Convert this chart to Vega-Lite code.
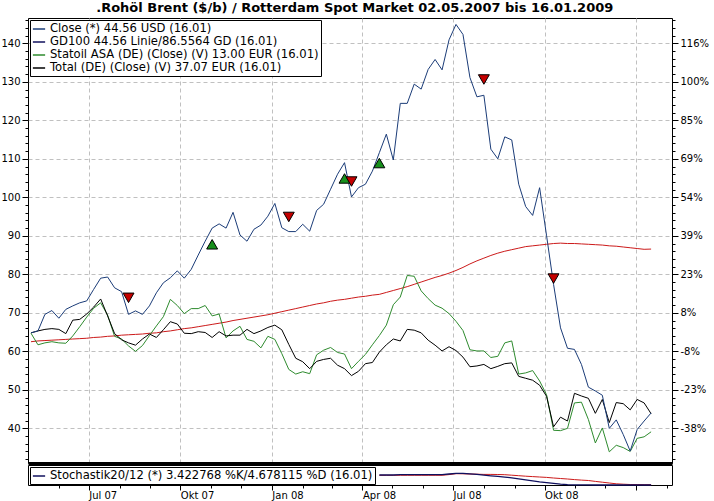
{
  "$schema": "https://vega.github.io/schema/vega-lite/v6.json",
  "autosize": {"type": "pad"},
  "padding": {"left": 0, "top": 1, "right": 4, "bottom": 0},
  "background": "white",
  "title": {
    "text": ".Rohöl Brent ($/b) / Rotterdam Spot Market 02.05.2007 bis 16.01.2009",
    "font": "DejaVu Sans",
    "fontSize": 13,
    "fontWeight": "bold",
    "color": "black",
    "anchor": "middle",
    "offset": 3,
    "dx": 0
  },
  "datasets": {
    "wk": [
      {"d": "2007-05-04", "Close": 64.8, "GD100": 62.5, "Statoil": 64.7, "Total": 64.8},
      {"d": "2007-05-11", "Close": 65.3, "GD100": 62.7, "Statoil": 61.7, "Total": 65.3},
      {"d": "2007-05-18", "Close": 69.6, "GD100": 62.8, "Statoil": 62.2, "Total": 65.7},
      {"d": "2007-05-25", "Close": 70.6, "GD100": 62.9, "Statoil": 62.5, "Total": 65.9},
      {"d": "2007-06-01", "Close": 68.6, "GD100": 63.0, "Statoil": 62.2, "Total": 65.7},
      {"d": "2007-06-08", "Close": 70.9, "GD100": 63.1, "Statoil": 62.1, "Total": 64.6},
      {"d": "2007-06-15", "Close": 71.8, "GD100": 63.2, "Statoil": 64.0, "Total": 68.1},
      {"d": "2007-06-22", "Close": 72.6, "GD100": 63.3, "Statoil": 66.4, "Total": 68.3},
      {"d": "2007-06-29", "Close": 73.1, "GD100": 63.4, "Statoil": 68.9, "Total": 69.7},
      {"d": "2007-07-06", "Close": 76.1, "GD100": 63.6, "Statoil": 71.2, "Total": 71.5},
      {"d": "2007-07-13", "Close": 79.0, "GD100": 63.7, "Statoil": 72.6, "Total": 73.6},
      {"d": "2007-07-20", "Close": 79.3, "GD100": 63.9, "Statoil": 69.4, "Total": 69.2},
      {"d": "2007-07-27", "Close": 76.5, "GD100": 64.0, "Statoil": 63.9, "Total": 64.6},
      {"d": "2007-08-03", "Close": 75.5, "GD100": 64.2, "Statoil": 63.2, "Total": 63.0},
      {"d": "2007-08-10", "Close": 69.6, "GD100": 64.3, "Statoil": 61.4, "Total": 62.2},
      {"d": "2007-08-17", "Close": 70.5, "GD100": 64.4, "Statoil": 60.0, "Total": 61.6},
      {"d": "2007-08-24", "Close": 69.6, "GD100": 64.5, "Statoil": 61.5, "Total": 63.2},
      {"d": "2007-08-31", "Close": 71.8, "GD100": 64.7, "Statoil": 64.1, "Total": 64.5},
      {"d": "2007-09-07", "Close": 75.2, "GD100": 64.8, "Statoil": 66.6, "Total": 63.6},
      {"d": "2007-09-14", "Close": 77.8, "GD100": 65.1, "Statoil": 69.0, "Total": 65.6},
      {"d": "2007-09-21", "Close": 79.1, "GD100": 65.3, "Statoil": 73.5, "Total": 67.7},
      {"d": "2007-09-28", "Close": 80.9, "GD100": 65.6, "Statoil": 71.9, "Total": 67.1},
      {"d": "2007-10-05", "Close": 79.0, "GD100": 65.9, "Statoil": 69.8, "Total": 64.7},
      {"d": "2007-10-12", "Close": 81.3, "GD100": 66.1, "Statoil": 71.1, "Total": 64.6},
      {"d": "2007-10-19", "Close": 85.0, "GD100": 66.4, "Statoil": 71.1, "Total": 65.1},
      {"d": "2007-10-26", "Close": 88.6, "GD100": 66.7, "Statoil": 71.9, "Total": 64.9},
      {"d": "2007-11-02", "Close": 92.0, "GD100": 67.0, "Statoil": 69.2, "Total": 63.6},
      {"d": "2007-11-09", "Close": 93.1, "GD100": 67.3, "Statoil": 69.7, "Total": 65.1},
      {"d": "2007-11-16", "Close": 92.0, "GD100": 67.6, "Statoil": 63.5, "Total": 64.0},
      {"d": "2007-11-23", "Close": 96.1, "GD100": 68.0, "Statoil": 65.3, "Total": 64.2},
      {"d": "2007-11-30", "Close": 90.2, "GD100": 68.3, "Statoil": 66.5, "Total": 64.2},
      {"d": "2007-12-07", "Close": 88.6, "GD100": 68.6, "Statoil": 63.1, "Total": 65.7},
      {"d": "2007-12-14", "Close": 91.7, "GD100": 68.9, "Statoil": 62.6, "Total": 64.6},
      {"d": "2007-12-21", "Close": 92.8, "GD100": 69.2, "Statoil": 60.9, "Total": 65.3},
      {"d": "2007-12-28", "Close": 95.1, "GD100": 69.5, "Statoil": 63.9, "Total": 66.2},
      {"d": "2008-01-04", "Close": 98.4, "GD100": 69.9, "Statoil": 63.1, "Total": 66.8},
      {"d": "2008-01-11", "Close": 92.1, "GD100": 70.3, "Statoil": 59.4, "Total": 65.6},
      {"d": "2008-01-18", "Close": 91.1, "GD100": 70.7, "Statoil": 55.3, "Total": 61.8},
      {"d": "2008-01-25", "Close": 91.1, "GD100": 71.1, "Statoil": 54.1, "Total": 58.2},
      {"d": "2008-02-01", "Close": 93.0, "GD100": 71.5, "Statoil": 54.7, "Total": 57.3},
      {"d": "2008-02-08", "Close": 91.2, "GD100": 71.9, "Statoil": 54.2, "Total": 55.5},
      {"d": "2008-02-15", "Close": 96.6, "GD100": 72.3, "Statoil": 59.1, "Total": 57.4},
      {"d": "2008-02-22", "Close": 98.2, "GD100": 72.6, "Statoil": 60.3, "Total": 57.9},
      {"d": "2008-02-29", "Close": 102.1, "GD100": 73.0, "Statoil": 61.0, "Total": 58.2},
      {"d": "2008-03-07", "Close": 106.0, "GD100": 73.3, "Statoil": 59.7, "Total": 56.4},
      {"d": "2008-03-14", "Close": 109.0, "GD100": 73.5, "Statoil": 59.3, "Total": 55.5},
      {"d": "2008-03-21", "Close": 100.1, "GD100": 73.8, "Statoil": 55.5, "Total": 53.7},
      {"d": "2008-03-28", "Close": 102.5, "GD100": 74.1, "Statoil": 57.4, "Total": 54.8},
      {"d": "2008-04-04", "Close": 103.4, "GD100": 74.3, "Statoil": 59.2, "Total": 56.8},
      {"d": "2008-04-11", "Close": 106.8, "GD100": 74.6, "Statoil": 61.7, "Total": 57.1},
      {"d": "2008-04-18", "Close": 111.6, "GD100": 74.8, "Statoil": 64.1, "Total": 59.8, "K": 50, "D": 48.5},
      {"d": "2008-04-25", "Close": 116.4, "GD100": 75.3, "Statoil": 66.8, "Total": 61.7, "K": 50, "D": 48.5},
      {"d": "2008-05-02", "Close": 109.7, "GD100": 75.8, "Statoil": 72.1, "Total": 63.2, "K": 50, "D": 48.5},
      {"d": "2008-05-09", "Close": 124.4, "GD100": 76.3, "Statoil": 74.1, "Total": 62.7, "K": 51.5, "D": 48.5},
      {"d": "2008-05-16", "Close": 124.4, "GD100": 76.8, "Statoil": 79.7, "Total": 65.7, "K": 51.5, "D": 48.5},
      {"d": "2008-05-23", "Close": 129.4, "GD100": 77.4, "Statoil": 79.5, "Total": 65.5, "K": 51.5, "D": 48.5},
      {"d": "2008-05-30", "Close": 128.1, "GD100": 78.0, "Statoil": 75.7, "Total": 64.8, "K": 51.5, "D": 48.5},
      {"d": "2008-06-06", "Close": 133.2, "GD100": 78.6, "Statoil": 73.7, "Total": 62.9, "K": 51.5, "D": 48.5},
      {"d": "2008-06-13", "Close": 135.8, "GD100": 79.2, "Statoil": 72.0, "Total": 61.6, "K": 51.5, "D": 48.5},
      {"d": "2008-06-20", "Close": 133.1, "GD100": 79.7, "Statoil": 71.2, "Total": 60.1, "K": 51.5, "D": 48.5},
      {"d": "2008-06-27", "Close": 140.9, "GD100": 80.3, "Statoil": 69.8, "Total": 61.2, "K": 55, "D": 52},
      {"d": "2008-07-04", "Close": 144.9, "GD100": 81.0, "Statoil": 67.8, "Total": 60.2, "K": 58.5, "D": 56.5},
      {"d": "2008-07-11", "Close": 142.3, "GD100": 81.8, "Statoil": 65.4, "Total": 58.5, "K": 58.5, "D": 56},
      {"d": "2008-07-18", "Close": 131.1, "GD100": 82.7, "Statoil": 60.4, "Total": 56.0, "K": 56, "D": 55},
      {"d": "2008-07-25", "Close": 126.1, "GD100": 83.5, "Statoil": 60.1, "Total": 56.2, "K": 53, "D": 54},
      {"d": "2008-08-01", "Close": 126.5, "GD100": 84.2, "Statoil": 60.1, "Total": 56.6, "K": 49.5, "D": 53},
      {"d": "2008-08-08", "Close": 112.5, "GD100": 84.9, "Statoil": 58.4, "Total": 55.5, "K": 46, "D": 53},
      {"d": "2008-08-15", "Close": 110.0, "GD100": 85.5, "Statoil": 58.7, "Total": 56.1, "K": 43, "D": 52.5},
      {"d": "2008-08-22", "Close": 115.7, "GD100": 86.0, "Statoil": 62.2, "Total": 56.8, "K": 39.5, "D": 51.5},
      {"d": "2008-08-29", "Close": 114.9, "GD100": 86.4, "Statoil": 62.7, "Total": 57.0, "K": 35.5, "D": 49},
      {"d": "2008-09-05", "Close": 103.4, "GD100": 86.8, "Statoil": 54.1, "Total": 53.5, "K": 31, "D": 46.5},
      {"d": "2008-09-12", "Close": 97.6, "GD100": 87.2, "Statoil": 54.4, "Total": 53.0, "K": 26, "D": 44},
      {"d": "2008-09-19", "Close": 95.3, "GD100": 87.4, "Statoil": 55.0, "Total": 52.5, "K": 21, "D": 42},
      {"d": "2008-09-26", "Close": 102.5, "GD100": 87.6, "Statoil": 52.3, "Total": 51.2, "K": 16, "D": 40},
      {"d": "2008-10-03", "Close": 90.0, "GD100": 87.8, "Statoil": 48.7, "Total": 48.3, "K": 12, "D": 38},
      {"d": "2008-10-10", "Close": 77.4, "GD100": 88.0, "Statoil": 39.5, "Total": 40.4, "K": 8, "D": 35},
      {"d": "2008-10-17", "Close": 66.1, "GD100": 88.1, "Statoil": 39.4, "Total": 42.9, "K": 4, "D": 32.5},
      {"d": "2008-10-24", "Close": 60.8, "GD100": 88.0, "Statoil": 40.0, "Total": 41.9, "K": 1.5, "D": 30},
      {"d": "2008-10-31", "Close": 60.5, "GD100": 88.0, "Statoil": 46.6, "Total": 49.1, "K": 1, "D": 27},
      {"d": "2008-11-07", "Close": 56.6, "GD100": 87.9, "Statoil": 46.8, "Total": 48.4, "K": 0.5, "D": 24.5},
      {"d": "2008-11-14", "Close": 50.7, "GD100": 87.8, "Statoil": 42.3, "Total": 47.8, "K": 0.5, "D": 22.5},
      {"d": "2008-11-21", "Close": 49.7, "GD100": 87.7, "Statoil": 36.2, "Total": 43.9, "K": 0, "D": 18},
      {"d": "2008-11-28", "Close": 48.6, "GD100": 87.6, "Statoil": 40.1, "Total": 47.5, "K": 0, "D": 14},
      {"d": "2008-12-05", "Close": 40.0, "GD100": 87.4, "Statoil": 33.9, "Total": 41.5, "K": 0, "D": 10},
      {"d": "2008-12-12", "Close": 42.2, "GD100": 87.3, "Statoil": 35.6, "Total": 46.7, "K": 0, "D": 6},
      {"d": "2008-12-19", "Close": 38.4, "GD100": 87.1, "Statoil": 35.0, "Total": 46.4, "K": 0, "D": 4},
      {"d": "2008-12-26", "Close": 34.1, "GD100": 86.9, "Statoil": 34.0, "Total": 44.8, "K": 0, "D": 2.5},
      {"d": "2009-01-02", "Close": 39.7, "GD100": 86.7, "Statoil": 37.4, "Total": 47.5, "K": 0, "D": 2},
      {"d": "2009-01-09", "Close": 41.9, "GD100": 86.5, "Statoil": 37.8, "Total": 46.6, "K": 0, "D": 1.5},
      {"d": "2009-01-16", "Close": 44.0, "GD100": 86.56, "Statoil": 39.1, "Total": 43.8, "K": 0, "D": 1.5}
    ],
    "sig": [
      {"d": "2007-08-10", "v": 73.9, "t": "down"},
      {"d": "2007-11-02", "v": 87.8, "t": "up"},
      {"d": "2008-01-18", "v": 94.9, "t": "down"},
      {"d": "2008-03-14", "v": 104.9, "t": "up"},
      {"d": "2008-03-21", "v": 104.1, "t": "down"},
      {"d": "2008-04-18", "v": 108.9, "t": "up"},
      {"d": "2008-08-01", "v": 130.6, "t": "down"},
      {"d": "2008-10-10", "v": 78.9, "t": "down"}
    ]
  },
  "spacing": 0,
  "resolve": {"scale": {"color": "independent"}, "legend": {"color": "independent"}},
  "vconcat": [
    {
      "width": 644,
      "height": 445,
      "resolve": {"axis": {"x": "independent", "y": "independent"}},
      "layer": [
        {
          "data": {"name": "wk"},
          "mark": {"type": "line", "color": "#cc1a1a", "strokeWidth": 1},
          "encoding": {
            "x": {
              "field": "d", "type": "temporal",
              "scale": {"domain": [{"year": 2007, "month": 5, "date": 1}, {"year": 2009, "month": 2, "date": 6}]},
              "axis": {
                "orient": "bottom", "title": null, "labels": false, "ticks": false,
                "grid": true, "gridColor": "#c0c0c0", "gridDash": [4, 3],
                "domain": true, "domainColor": "black", "domainWidth": 3,
                "values": [
                  {"year": 2007, "month": 7, "date": 1}, {"year": 2007, "month": 10, "date": 1},
                  {"year": 2008, "month": 1, "date": 1}, {"year": 2008, "month": 4, "date": 1},
                  {"year": 2008, "month": 7, "date": 1}, {"year": 2008, "month": 10, "date": 1},
                  {"year": 2009, "month": 1, "date": 1}
                ]
              }
            },
            "y": {
              "field": "GD100", "type": "quantitative",
              "scale": {"domain": [31, 146.57], "nice": false, "zero": false},
              "axis": {
                "orient": "right", "title": null, "grid": false, "domain": false,
                "tickSize": 6, "tickColor": "black", "labelPadding": 2,
                "labelFont": "DejaVu Sans", "labelFontSize": 10, "labelColor": "black",
                "values": [40, 50, 60, 70, 80, 90, 100, 110, 120, 130, 140],
                "labelExpr": "{'40':'-38%','50':'-23%','60':'-8%','70':'8%','80':'23%','90':'39%','100':'54%','110':'69%','120':'85%','130':'100%','140':'116%'}[datum.label]"
              }
            }
          }
        },
        {
          "data": {"name": "wk"},
          "transform": [{"fold": ["Statoil", "Total", "Close"], "as": ["series", "val"]}],
          "mark": {"type": "line", "strokeWidth": 1},
          "encoding": {
            "x": {"field": "d", "type": "temporal", "axis": null},
            "y": {
              "field": "val", "type": "quantitative",
              "axis": {
                "orient": "left", "title": null, "grid": true, "gridColor": "#c0c0c0", "gridDash": [4, 3],
                "domain": false, "tickSize": 6, "tickColor": "black", "labelPadding": 2,
                "labelFont": "DejaVu Sans", "labelFontSize": 10, "labelColor": "black",
                "values": [40, 50, 60, 70, 80, 90, 100, 110, 120, 130, 140]
              }
            },
            "color": {
              "field": "series", "type": "nominal",
              "scale": {
                "domain": ["Close", "GD100", "Statoil", "Total"],
                "range": ["#1b3c78", "#10105e", "#2e8b2e", "#000000"]
              },
              "legend": {
                "title": null, "orient": "top-left", "offset": 2, "padding": 2,
                "fillColor": "white", "strokeColor": "black",
                "symbolType": "stroke", "symbolSize": 150, "symbolStrokeWidth": 1.5,
                "labelFont": "DejaVu Sans", "labelFontSize": 11.6, "labelColor": "black",
                "labelLimit": 0, "rowPadding": 0, "labelOffset": 4,
                "labelExpr": "{'Close':'Close (*) 44.56 USD (16.01)','GD100':'GD100 44.56 Linie/86.5564 GD (16.01)','Statoil':'Statoil ASA (DE) (Close) (V) 13.00 EUR (16.01)','Total':'Total (DE) (Close) (V) 37.07 EUR (16.01)'}[datum.label]"
              }
            }
          }
        },
        {
          "data": {"name": "sig"},
          "transform": [{"filter": "datum.t == 'up'"}],
          "mark": {"type": "point", "shape": "triangle-up", "filled": true, "fill": "#17901c", "stroke": "black", "strokeWidth": 1, "size": 120, "opacity": 1},
          "encoding": {
            "x": {"field": "d", "type": "temporal", "axis": null},
            "y": {
              "field": "v", "type": "quantitative",
              "axis": {
                "orient": "left", "title": null, "grid": false, "domain": false, "labels": false,
                "tickSize": 3, "tickColor": "black",
                "values": [32, 34, 36, 38, 40, 42, 44, 46, 48, 50, 52, 54, 56, 58, 60, 62, 64, 66, 68, 70, 72, 74, 76, 78, 80, 82, 84, 86, 88, 90, 92, 94, 96, 98, 100, 102, 104, 106, 108, 110, 112, 114, 116, 118, 120, 122, 124, 126, 128, 130, 132, 134, 136, 138, 140, 142, 144, 146]
              }
            }
          }
        },
        {
          "data": {"name": "sig"},
          "transform": [{"filter": "datum.t == 'down'"}],
          "mark": {"type": "point", "shape": "triangle-down", "filled": true, "fill": "#c40000", "stroke": "black", "strokeWidth": 1, "size": 120, "opacity": 1},
          "encoding": {
            "x": {"field": "d", "type": "temporal", "axis": null},
            "y": {
              "field": "v", "type": "quantitative",
              "axis": {
                "orient": "right", "title": null, "grid": false, "domain": false, "labels": false,
                "tickSize": 3, "tickColor": "black",
                "values": [32, 34, 36, 38, 40, 42, 44, 46, 48, 50, 52, 54, 56, 58, 60, 62, 64, 66, 68, 70, 72, 74, 76, 78, 80, 82, 84, 86, 88, 90, 92, 94, 96, 98, 100, 102, 104, 106, 108, 110, 112, 114, 116, 118, 120, 122, 124, 126, 128, 130, 132, 134, 136, 138, 140, 142, 144, 146]
              }
            }
          }
        }
      ]
    },
    {
      "width": 644,
      "height": 20,
      "data": {"name": "wk"},
      "resolve": {"axis": {"x": "independent"}},
      "layer": [
        {
          "mark": {"type": "line", "color": "#cc1a1a", "strokeWidth": 1},
          "encoding": {
            "x": {
              "field": "d", "type": "temporal",
              "scale": {"domain": [{"year": 2007, "month": 5, "date": 1}, {"year": 2009, "month": 2, "date": 6}]},
              "axis": {
                "orient": "bottom", "title": null, "grid": false, "domain": false,
                "tickSize": 5, "tickColor": "black", "labelAlign": "left", "labelPadding": 0,
                "labelFont": "DejaVu Sans", "labelFontSize": 10, "labelColor": "black",
                "values": [
                  {"year": 2007, "month": 7, "date": 1}, {"year": 2007, "month": 10, "date": 1},
                  {"year": 2008, "month": 1, "date": 1}, {"year": 2008, "month": 4, "date": 1},
                  {"year": 2008, "month": 7, "date": 1}, {"year": 2008, "month": 10, "date": 1},
                  {"year": 2009, "month": 1, "date": 1}
                ],
                "labelExpr": "year(datum.value) > 2008 ? '' : ['Jan','Feb','Mär','Apr','Mai','Jun','Jul','Aug','Sep','Okt','Nov','Dez'][month(datum.value)] + ' ' + timeFormat(datum.value, '%y')"
              }
            },
            "y": {
              "field": "D", "type": "quantitative",
              "scale": {"domain": [0, 100], "nice": false},
              "axis": {
                "orient": "left", "title": null, "grid": false, "domain": false,
                "tickSize": 6, "tickColor": "black", "labelPadding": 2,
                "labelFont": "DejaVu Sans", "labelFontSize": 10, "labelColor": "black",
                "values": [0]
              }
            }
          }
        },
        {
          "transform": [{"fold": ["K"], "as": ["series", "val"]}],
          "mark": {"type": "line", "strokeWidth": 1.3},
          "encoding": {
            "x": {
              "field": "d", "type": "temporal",
              "axis": {
                "orient": "bottom", "title": null, "grid": false, "domain": false, "labels": false,
                "tickSize": 3, "tickColor": "black",
                "values": [
                  {"year": 2007, "month": 6, "date": 1}, {"year": 2007, "month": 8, "date": 1},
                  {"year": 2007, "month": 9, "date": 1}, {"year": 2007, "month": 11, "date": 1},
                  {"year": 2007, "month": 12, "date": 1}, {"year": 2008, "month": 2, "date": 1},
                  {"year": 2008, "month": 3, "date": 1}, {"year": 2008, "month": 5, "date": 1},
                  {"year": 2008, "month": 6, "date": 1}, {"year": 2008, "month": 8, "date": 1},
                  {"year": 2008, "month": 9, "date": 1}, {"year": 2008, "month": 11, "date": 1},
                  {"year": 2008, "month": 12, "date": 1}, {"year": 2009, "month": 2, "date": 1}
                ]
              }
            },
            "y": {"field": "val", "type": "quantitative", "axis": null},
            "color": {
              "field": "series", "type": "nominal",
              "scale": {"domain": ["K"], "range": ["#10105e"]},
              "legend": {
                "title": null, "orient": "top-left", "offset": 2, "padding": 2,
                "fillColor": "white", "strokeColor": "black",
                "symbolType": "stroke", "symbolSize": 150, "symbolStrokeWidth": 1.5,
                "labelFont": "DejaVu Sans", "labelFontSize": 11.6, "labelColor": "black",
                "labelLimit": 0, "labelOffset": 4,
                "labelExpr": "'Stochastik20/12 (*) 3.422768 %K/4.678115 %D (16.01)'"
              }
            }
          }
        }
      ]
    }
  ],
  "config": {
    "font": "DejaVu Sans",
    "view": {"stroke": "black", "strokeWidth": 1}
  }
}
